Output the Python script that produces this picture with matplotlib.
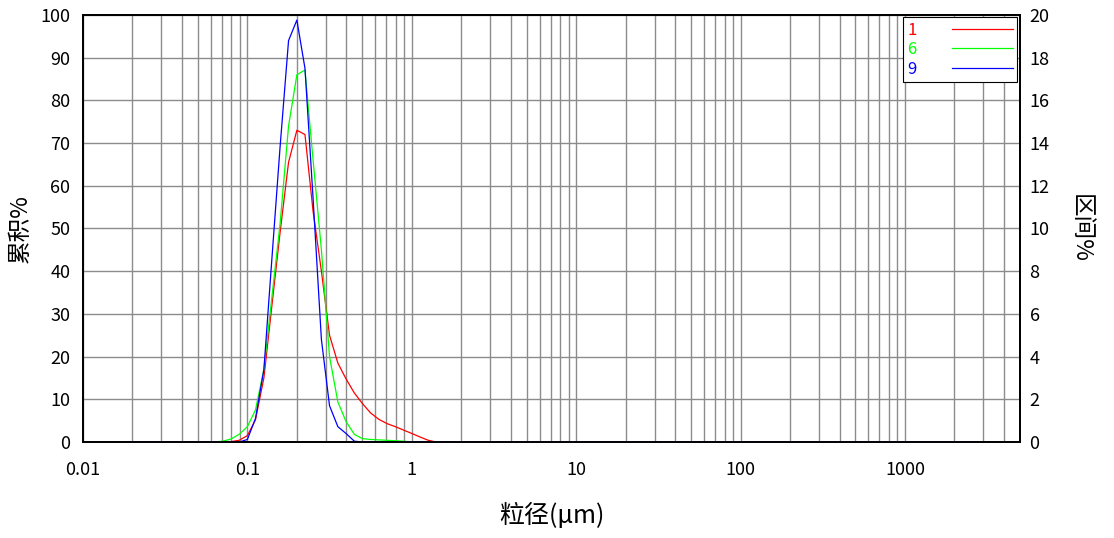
import numpy as np
import matplotlib
matplotlib.use("Agg")
import matplotlib.pyplot as plt

plt.rcParams['font.family'] = ['Noto Sans CJK SC', 'DejaVu Sans']

# --- data: particle size (um) and interval % for samples 1, 6, 9 ---
size_um = [0.02, 0.0631, 0.0708, 0.0794, 0.0891, 0.1, 0.112, 0.126, 0.141, 0.158,
           0.178, 0.2, 0.224, 0.251, 0.282, 0.316, 0.355, 0.398, 0.447, 0.501,
           0.562, 0.631, 0.708, 0.794, 0.891, 1.0, 1.12, 1.26, 1.41, 2650]

s1 = [0, 0, 0, 0.02, 0.08, 0.3, 1.04, 3.0, 6.4, 9.8,
      13.1, 14.6, 14.4, 10.8, 8.0, 5.0, 3.7, 2.96, 2.3, 1.8,
      1.36, 1.06, 0.86, 0.72, 0.56, 0.4, 0.24, 0.08, 0, 0]
s6 = [0, 0, 0.04, 0.14, 0.36, 0.72, 1.5, 3.4, 6.8, 10.2,
      14.8, 17.2, 17.42, 13.2, 9.0, 4.0, 1.88, 0.96, 0.36, 0.16,
      0.12, 0.1, 0.08, 0.06, 0.04, 0, 0, 0, 0, 0]
s9 = [0, 0, 0, 0, 0, 0.12, 1.1, 3.4, 8.6, 13.8,
      18.8, 19.76, 17.5, 11.4, 4.8, 1.7, 0.72, 0.4, 0.04, 0,
      0, 0, 0, 0, 0, 0, 0, 0, 0, 0]

series = [("1", s1, "#ff0000"), ("6", s6, "#00ff00"), ("9", s9, "#0000ff")]

x_ticks = [0.01, 0.1, 1, 10, 100, 1000]
x_labels = ["0.01", "0.1", "1", "10", "100", "1000"]

# --- figure ---
fig = plt.figure(figsize=(11.14, 5.38), dpi=100)
ax = fig.add_axes([0.0745, 0.1784, 0.841, 0.7938])
ax2 = ax.twinx()

ax.set_xscale("log")
ax.set_xlim(0.01, 5000)
ax.set_ylim(0, 100)
ax2.set_ylim(0, 20)

ax.set_xticks(x_ticks)
ax.set_xticklabels(x_labels)
ax.set_yticks(np.arange(0, 101, 10))
ax2.set_yticks(np.arange(0, 21, 2))

ax.grid(which="both", axis="x", color="#8c8c8c", lw=1.0)
ax.grid(which="major", axis="y", color="#8c8c8c", lw=1.0)
ax.set_axisbelow(True)

ax.tick_params(axis="both", which="both", length=0, labelsize=13)
ax.tick_params(axis="x", pad=14)
ax.tick_params(axis="y", pad=9)
ax2.tick_params(axis="y", length=0, labelsize=13, pad=7)

for a in (ax, ax2):
    for sp in a.spines.values():
        sp.set_color("black")
        sp.set_linewidth(1.3)

for name, vals, col in series:
    ax2.plot(size_um, vals, color=col, lw=0.9, label=name)

ax.set_xlabel("粒径(μm)", fontsize=18, labelpad=17)
ax.set_ylabel("累积%", fontsize=17, labelpad=6)
ax2.set_ylabel("区间%", fontsize=17, rotation=270, labelpad=30)

leg = ax2.legend(loc="upper right", bbox_to_anchor=(1.0, 1.0), borderaxespad=0.15,
                 markerfirst=False, fontsize=12, labelcolor="linecolor",
                 handlelength=3.7, handletextpad=2.1, labelspacing=0.15,
                 borderpad=0.25, fancybox=False, framealpha=1)
leg.get_frame().set_edgecolor("black")
leg.get_frame().set_linewidth(0.8)

fig.savefig("out.png", dpi=100)
